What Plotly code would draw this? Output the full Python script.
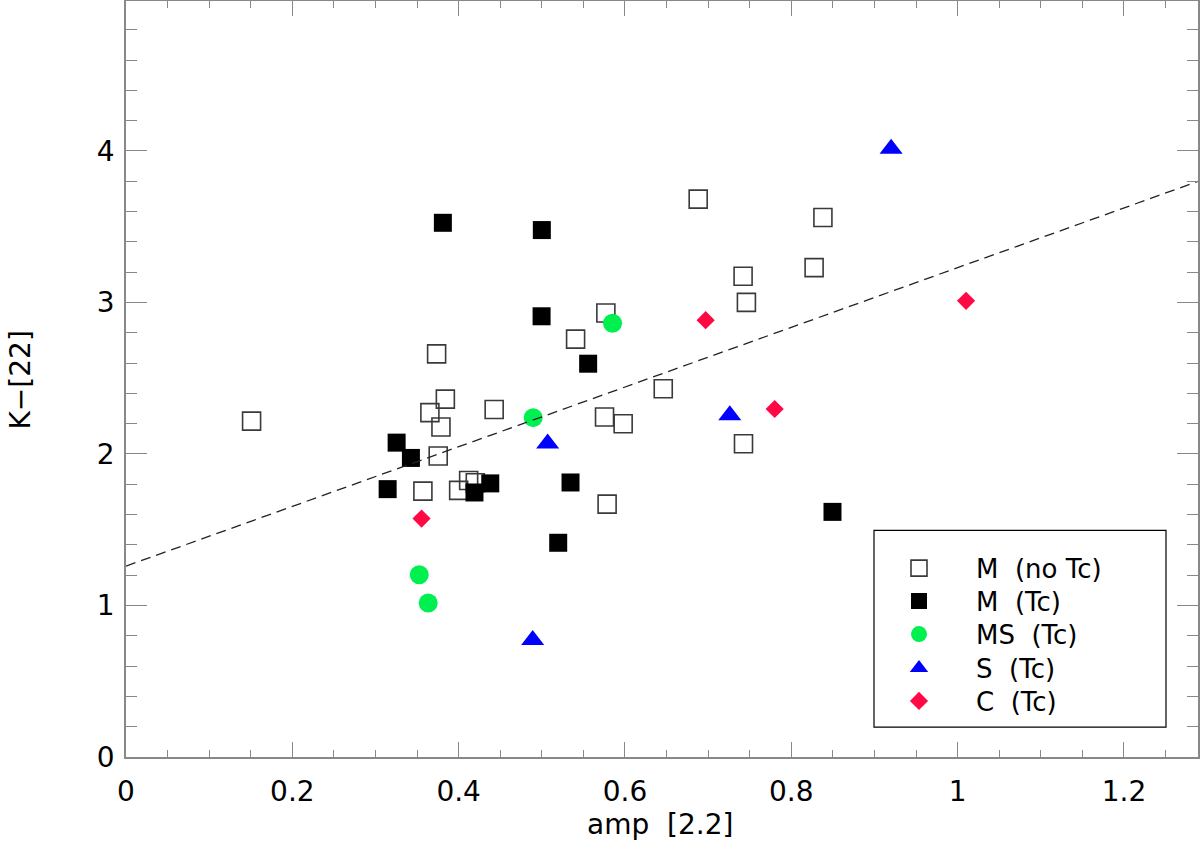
import plotly.graph_objects as go

# M stars without Tc (open squares)
m_notc_amp = [0.151, 0.3735, 0.384, 0.3654, 0.3787, 0.4427, 0.3754, 0.357, 0.400, 0.412, 0.420,
              0.577, 0.5406, 0.5754, 0.5978, 0.5785, 0.688, 0.838, 0.8274, 0.742, 0.746, 0.646, 0.7425]
m_notc_k22 = [2.217, 2.661, 2.362, 2.273, 2.178, 2.294, 1.987, 1.755, 1.760, 1.825, 1.810,
              2.931, 2.758, 2.244, 2.200, 1.669, 3.682, 3.561, 3.230, 3.173, 3.001, 2.431, 2.068]

# M stars with Tc (filled squares)
m_tc_amp = [0.381, 0.500, 0.4997, 0.5557, 0.3254, 0.3426, 0.3146, 0.419, 0.438, 0.5345, 0.5197, 0.8495]
m_tc_k22 = [3.526, 3.478, 2.909, 2.596, 2.075, 1.974, 1.768, 1.746, 1.806, 1.812, 1.414, 1.618]

# MS stars with Tc
ms_amp = [0.585, 0.4896, 0.3526, 0.3634]
ms_k22 = [2.863, 2.240, 1.203, 1.016]

# S stars with Tc
s_amp = [0.920, 0.507, 0.726, 0.489]
s_k22 = [4.014, 2.069, 2.255, 0.773]

# C stars with Tc
c_amp = [0.3554, 0.697, 0.780, 1.0101]
c_k22 = [1.574, 2.883, 2.297, 3.011]

# linear fit (dashed line)
fit_intercept = 1.26
fit_slope = 1.97

x_range = [0, 1.289]
y_range = [0, 4.99]

font = "DejaVu Sans"

# plot area in pixels, used to place the legend / titles
L, R, T, B = 126, 1198, 0, 757
W, H = R - L, B - T


def px_x(p):
    return (p - L) / W


def px_y(p):
    return (B - p) / H


fig = go.Figure()

series = [
    ("M  (no Tc)", m_notc_amp, m_notc_k22,
     dict(symbol="square-open", size=18, color="#3a3a3a", line=dict(width=1.6, color="#3a3a3a"))),
    ("M  (Tc)", m_tc_amp, m_tc_k22, dict(symbol="square", size=18, color="black")),
    ("MS  (Tc)", ms_amp, ms_k22, dict(symbol="circle", size=19, color="#00f050")),
    ("S  (Tc)", s_amp, s_k22, dict(symbol="triangle-up", size=20, color="#0000ff")),
    ("C  (Tc)", c_amp, c_k22, dict(symbol="diamond", size=14, color="#ff0844")),
]
legend_rows = [568, 601, 634, 668, 701]

for i, (name, xs, ys, mk) in enumerate(series):
    lg = "legend" if i == 0 else "legend%d" % (i + 1)
    fig.add_trace(go.Scatter(x=xs, y=ys, mode="markers", name=name, marker=mk, legend=lg))
    fig.update_layout({lg: dict(x=px_x(862), y=px_y(legend_rows[i]), xanchor="left",
                                yanchor="middle", bgcolor="rgba(0,0,0,0)", borderwidth=0,
                                itemwidth=104, font=dict(family=font, size=26, color="black"))})

fit_x = x_range
fit_y = [fit_intercept + fit_slope * v for v in fit_x]
fig.add_trace(go.Scatter(x=fit_x, y=fit_y, mode="lines", showlegend=False,
                         line=dict(color="#222222", width=1.3, dash="10px,6px")))

axis_common = dict(showgrid=False, zeroline=False, showline=True, linecolor="#888888",
                   linewidth=1.5, mirror="ticks", ticks="inside", tickcolor="#888888",
                   tickwidth=1.2, automargin=False,
                   tickfont=dict(family=font, size=28, color="black"))

fig.update_xaxes(range=x_range, ticklen=15, ticklabelstandoff=9,
                 tickvals=[0, 0.2, 0.4, 0.6, 0.8, 1.0, 1.2],
                 ticktext=["0", "0.2", "0.4", "0.6", "0.8", "1", "1.2"],
                 minor=dict(dtick=0.05, tick0=0, ticklen=7, ticks="inside", tickcolor="#888888"),
                 **axis_common)
fig.update_yaxes(range=y_range, dtick=1, tick0=0, ticklen=21, ticklabelstandoff=4,
                 minor=dict(dtick=0.2, tick0=0, ticklen=11, ticks="inside", tickcolor="#888888"),
                 **axis_common)

# axis titles
fig.add_annotation(text="amp  [2.2]", xref="paper", yref="paper", x=px_x(660), y=px_y(825),
                   xanchor="center", yanchor="middle", showarrow=False,
                   font=dict(family=font, size=28, color="black"))
fig.add_annotation(text="K\u2212[22]", xref="paper", yref="paper", x=px_x(20), y=px_y(380),
                   xanchor="center", yanchor="middle", showarrow=False, textangle=-90,
                   font=dict(family=font, size=28, color="black"))

# legend frame
fig.add_shape(type="rect", xref="paper", yref="paper",
              x0=px_x(874), x1=px_x(1166), y0=px_y(727), y1=px_y(530),
              line=dict(color="black", width=1.2), fillcolor="rgba(0,0,0,0)")

fig.update_layout(
    width=1200, height=852,
    margin=dict(l=L, r=1200 - R, t=T + 1, b=852 - B),
    plot_bgcolor="white", paper_bgcolor="white",
    font=dict(family=font, size=26, color="black"),
)

fig.write_html("out.html", config={"displayModeBar": False},
               post_script="document.body.style.margin='0';")
